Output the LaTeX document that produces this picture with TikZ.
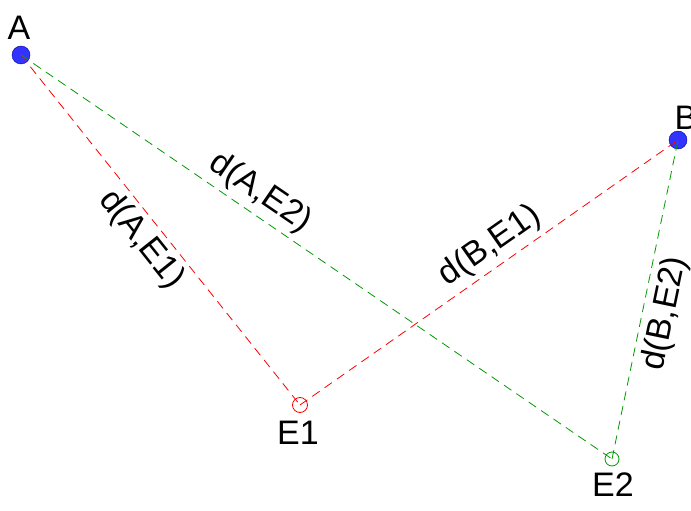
\documentclass[tikz,border=0pt]{standalone}
\usepackage{fontspec}
\setmainfont{Liberation Sans}
\usetikzlibrary{positioning}

\begin{document}
\begin{tikzpicture}[
      x=1pt, y=-1pt,
      every node/.style={font=\fontsize{34}{40}\selectfont},
      station/.style={circle, draw=blue!60!black, fill=blue!80, minimum size=18pt, inner sep=0pt},
      target/.style={circle, draw, line width=0.8pt, minimum size=15pt, inner sep=0pt},
      dist/.style={dash pattern=on 9pt off 6pt, line width=0.8pt},
      lbl/.style={sloped, text=black, inner sep=5pt}
    ]
    \useasboundingbox (0,0) rectangle (691,511);

    \node[station] (A) at (21,55) {};
    \node[station] (B) at (678,140) {};
    \node[target, red] (E1) at (300,405) {};
    \node[target, green!60!black, minimum size=14pt] (E2) at (612,459) {};

    \node[above=3pt of A, xshift=-2pt] (labA) {A};
    \node[above=-2pt of B, xshift=8pt] (labB) {B};
    \node[below=5pt of E1, xshift=-2pt] (labE1) {E1};
    \node[below=3pt of E2, xshift=1pt] (labE2) {E2};

    \draw[dist, red] (A.center) -- node[lbl, below, pos=0.49] {d(A,E1)} (E1.center);
    \draw[dist, green!60!black] (A.center) -- node[lbl, above, pos=0.385] {d(A,E2)} (E2.center);
    \draw[dist, red] (E1.center) -- node[lbl, above, pos=0.535] {d(B,E1)} (B.center);
    \draw[dist, green!60!black] (E2.center) -- node[lbl, below, pos=0.47, inner sep=7pt] {d(B,E2)} (B.center);
  \end{tikzpicture}
\end{document}
